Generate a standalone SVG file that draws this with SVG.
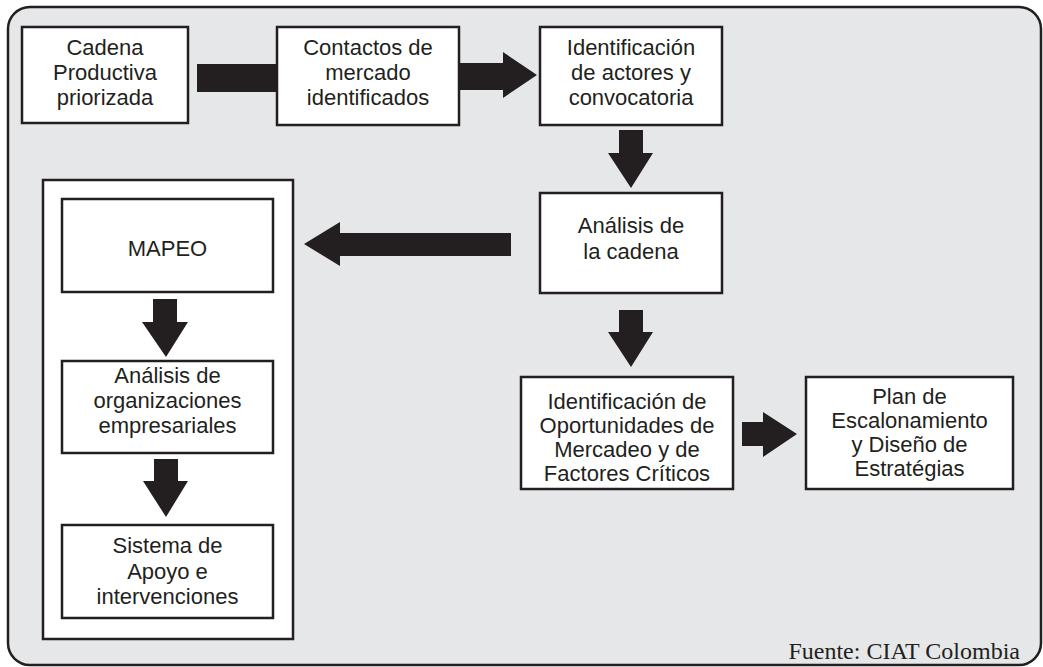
<svg xmlns="http://www.w3.org/2000/svg" width="1043" height="667" viewBox="0 0 1043 667">
<style>
.box{fill:#ffffff;stroke:#231f20;stroke-width:2.5}
.t{font-family:"Liberation Sans",Arial,sans-serif;font-size:22px;fill:#231f20;text-anchor:middle}
.arr{fill:#231f20;stroke:none}
.src{font-family:"Liberation Serif","Times New Roman",serif;font-size:24px;fill:#231f20;text-anchor:end}
</style>
<rect x="8" y="7" width="1033" height="658" rx="22" ry="22" fill="#e6e7e8" stroke="#231f20" stroke-width="2.5"/>
<g id="container-mapeo">
<rect class="box" x="43" y="180" width="250" height="459"/>
</g>
<g id="connectors">
<rect class="arr" x="197" y="64" width="80" height="28"/>
<path class="arr" d="M459,63 H503 V52 L537,75 L503,98 V90 H459 Z"/>
<path class="arr" d="M619,130 H643 V153 H653 L631,188 L608,153 H619 Z"/>
<path class="arr" d="M511,233 V256 H340 V266 L304,244 L340,222 V233 Z"/>
<path class="arr" d="M619,310 H643 V332 H653 L631,367 L608,332 H619 Z"/>
<path class="arr" d="M742,422 H763 V412 L797,434 L763,457 V446 H742 Z"/>
<path class="arr" d="M153,299 H177 V322 H188 L166,357 L142,322 H153 Z"/>
<path class="arr" d="M154,459 H178 V481 H188 L166,517 L143,481 H154 Z"/>
</g>
<g id="n-cadena">
<rect class="box" x="22" y="27" width="166" height="96"/>
<text class="t" x="105" y="55">Cadena</text>
<text class="t" x="105" y="80">Productiva</text>
<text class="t" x="105" y="105">priorizada</text>
</g>
<g id="n-contactos">
<rect class="box" x="277" y="27" width="182" height="98"/>
<text class="t" x="368" y="55">Contactos de</text>
<text class="t" x="368" y="80">mercado</text>
<text class="t" x="368" y="105">identificados</text>
</g>
<g id="n-actores">
<rect class="box" x="540" y="27" width="182" height="98"/>
<text class="t" x="631" y="55">Identificación</text>
<text class="t" x="631" y="80">de actores y</text>
<text class="t" x="631" y="105">convocatoria</text>
</g>
<g id="n-analisis">
<rect class="box" x="540" y="193" width="182" height="100"/>
<text class="t" x="631" y="233">Análisis de</text>
<text class="t" x="631" y="259">la cadena</text>
</g>
<g id="n-oportunidades">
<rect class="box" x="521" y="377" width="212" height="112"/>
<text class="t" x="627" y="409">Identificación de</text>
<text class="t" x="627" y="433">Oportunidades de</text>
<text class="t" x="627" y="457">Mercadeo y de</text>
<text class="t" x="627" y="481">Factores Críticos</text>
</g>
<g id="n-plan">
<rect class="box" x="806" y="377" width="207" height="112"/>
<text class="t" x="909.5" y="404">Plan de</text>
<text class="t" x="909.5" y="428">Escalonamiento</text>
<text class="t" x="909.5" y="452">y Diseño de</text>
<text class="t" x="909.5" y="476">Estratégias</text>
</g>
<g id="n-mapeo">
<rect class="box" x="62" y="199" width="211" height="93"/>
<text class="t" x="167.5" y="256">MAPEO</text>
</g>
<g id="n-organizaciones">
<rect class="box" x="62" y="361" width="211" height="92"/>
<text class="t" x="167.5" y="383">Análisis de</text>
<text class="t" x="167.5" y="408">organizaciones</text>
<text class="t" x="167.5" y="433">empresariales</text>
</g>
<g id="n-sistema">
<rect class="box" x="62" y="525" width="211" height="93"/>
<text class="t" x="167.5" y="553">Sistema de</text>
<text class="t" x="167.5" y="579">Apoyo e</text>
<text class="t" x="167.5" y="604">intervenciones</text>
</g>
<text class="src" x="1020" y="659">Fuente: CIAT Colombia</text>
</svg>
